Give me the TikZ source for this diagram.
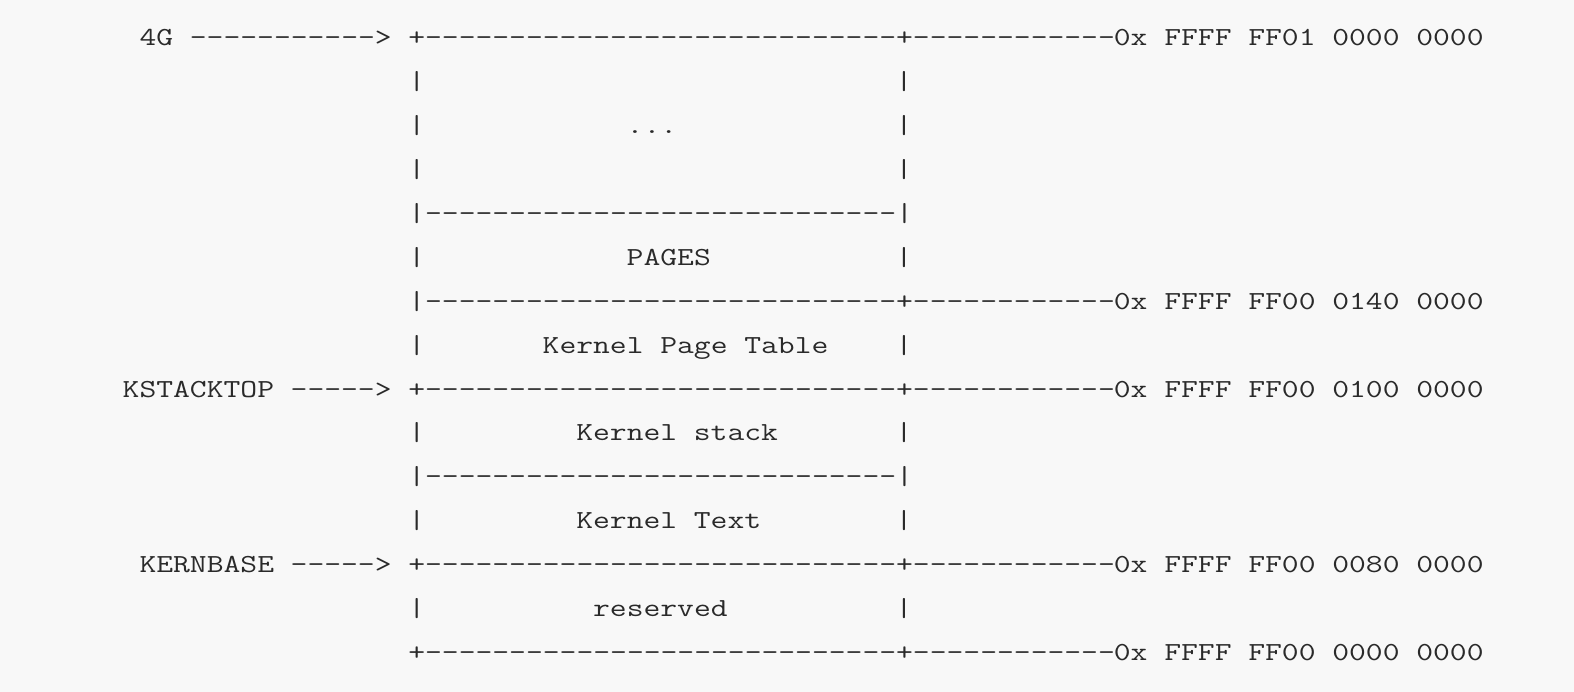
\documentclass[tikz,border=0pt]{standalone}
\usepackage{fontspec}
\newfontfamily\asc[FakeStretch=1.2564]{Latin Modern Mono}
\definecolor{bg}{HTML}{F8F8F8}
\definecolor{ink}{HTML}{2A2A2A}
\newcommand\dashes[1]{\foreach \i in {1,...,#1}{-\kern0pt}}
\tikzset{tok/.style={anchor=base west, inner sep=0pt, outer sep=0pt, text=ink, font=\asc\fontsize{26}{26}\selectfont}}
\newcommand\T[4]{\node[tok] (#1) at ({408.3+(#2)*16.8},{-(45.6+(#3)*43.93)}) {#4};}
\newcommand\Addr[5]{\T{#1a}{42}{#2}{0x}\T{#1b}{45}{#2}{FFFF}\T{#1c}{50}{#2}{#3}\T{#1d}{55}{#2}{#4}\T{#1e}{60}{#2}{#5}}
\newcommand\Bars[2]{\T{#1l}{0}{#2}{|}\T{#1r}{29}{#2}{|}}
\begin{document}
\begin{tikzpicture}[x=1pt,y=1pt]
\fill[bg] (0,0) rectangle (1574,-692);
\useasboundingbox (0,0) rectangle (1574,-692);
% row 0
\T{g}{-16}{0}{4G}
\T{garr}{-13}{0}{\dashes{11}>}
\T{r0}{0}{0}{+\dashes{28}+\dashes{12}}
\Addr{a0}{0}{FF01}{0000}{0000}
% rows 1-3
\Bars{b1}{1}
\Bars{b2}{2}
\T{dots}{13}{2}{...}
\Bars{b3}{3}
% row 4
\T{r4}{0}{4}{|\dashes{28}|}
% row 5
\Bars{b5}{5}
\T{pages}{13}{5}{PAGES}
% row 6
\T{r6}{0}{6}{|\dashes{28}+\dashes{12}}
\Addr{a6}{6}{FF00}{0140}{0000}
% row 7
\Bars{b7}{7}
\T{kpt1}{8}{7}{Kernel}
\T{kpt2}{15}{7}{Page}
\T{kpt3}{20}{7}{Table}
% row 8
\T{kst}{-17}{8}{KSTACKTOP}
\T{kstarr}{-7}{8}{\dashes{5}>}
\T{r8}{0}{8}{+\dashes{28}+\dashes{12}}
\Addr{a8}{8}{FF00}{0100}{0000}
% row 9
\Bars{b9}{9}
\T{ks1}{10}{9}{Kernel}
\T{ks2}{17}{9}{stack}
% row 10
\T{r10}{0}{10}{|\dashes{28}|}
% row 11
\Bars{b11}{11}
\T{kt1}{10}{11}{Kernel}
\T{kt2}{17}{11}{Text}
% row 12
\T{kb}{-16}{12}{KERNBASE}
\T{kbarr}{-7}{12}{\dashes{5}>}
\T{r12}{0}{12}{+\dashes{28}+\dashes{12}}
\Addr{a12}{12}{FF00}{0080}{0000}
% row 13
\Bars{b13}{13}
\T{res}{11}{13}{reserved}
% row 14
\T{r14}{0}{14}{+\dashes{28}+\dashes{12}}
\Addr{a14}{14}{FF00}{0000}{0000}
\end{tikzpicture}
\end{document}
